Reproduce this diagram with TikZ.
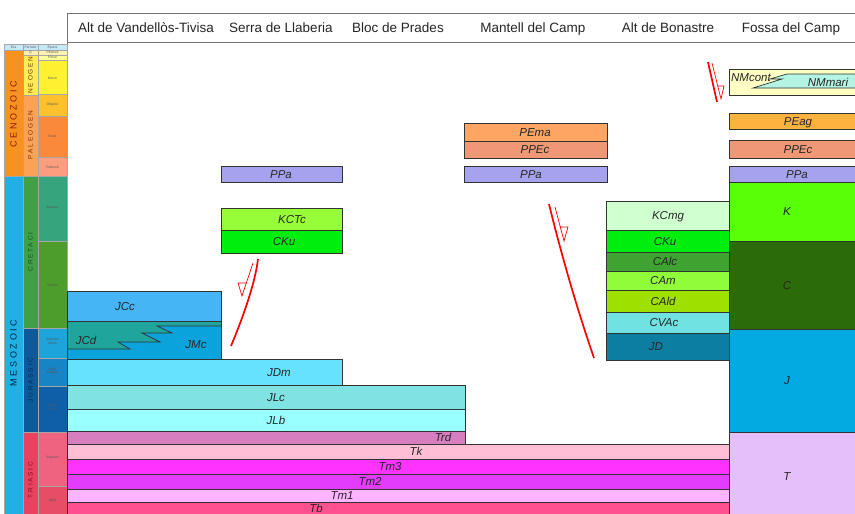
\documentclass[tikz,border=0pt]{standalone}
\usepackage{fontspec}
\setmainfont{Liberation Sans}
\newfontfamily\spcera[LetterSpace=30]{Liberation Sans}
\newfontfamily\spcper[LetterSpace=28]{Liberation Sans}
\definecolor{hdrblue}{HTML}{C5E8F7}
\definecolor{cenoz}{HTML}{F7921E}
\definecolor{mesoz}{HTML}{1FB0E6}
\definecolor{quatc}{HTML}{FFF2B0}
\definecolor{neogc}{HTML}{FFEE55}
\definecolor{paleogc}{HTML}{FBA255}
\definecolor{cretc}{HTML}{40A046}
\definecolor{jurc}{HTML}{0A5A9C}
\definecolor{triac}{HTML}{E8425F}
\definecolor{plistc}{HTML}{FFF2B0}
\definecolor{plioc}{HTML}{FFFF99}
\definecolor{mioc}{HTML}{FFF233}
\definecolor{oligc}{HTML}{FDC22B}
\definecolor{eocc}{HTML}{FA8A3A}
\definecolor{paleocc}{HTML}{FB9E7E}
\definecolor{ksupc}{HTML}{36A47C}
\definecolor{kinfc}{HTML}{4C9D2C}
\definecolor{malmc}{HTML}{1DA4DA}
\definecolor{doggc}{HTML}{1784C6}
\definecolor{liasc}{HTML}{0F5FA6}
\definecolor{tsupc}{HTML}{EF6381}
\definecolor{tmidc}{HTML}{E84D66}
\definecolor{cenoztxt}{HTML}{8A1A10}
\definecolor{mesoztxt}{HTML}{0A2040}
\definecolor{pgtxt}{HTML}{7A2E0E}
\definecolor{kttxt}{HTML}{1E4D1E}
\definecolor{jtxt}{HTML}{0A2A55}
\definecolor{ttxt}{HTML}{7A1028}
\definecolor{ppac}{HTML}{A5A3EE}
\definecolor{kctcc}{HTML}{96FD38}
\definecolor{ckuc}{HTML}{00EE0E}
\definecolor{pemac}{HTML}{FDA663}
\definecolor{ppecc}{HTML}{F09876}
\definecolor{kcmgc}{HTML}{D0FFD0}
\definecolor{calcc}{HTML}{3EA330}
\definecolor{camc}{HTML}{90FC3A}
\definecolor{caldc}{HTML}{9EE000}
\definecolor{cvacc}{HTML}{70E2E2}
\definecolor{jdc}{HTML}{0B7EA2}
\definecolor{nmc}{HTML}{FFFFC4}
\definecolor{nmmc}{HTML}{B3F4E3}
\definecolor{peagc}{HTML}{FDB240}
\definecolor{kfc}{HTML}{58FF06}
\definecolor{cfc}{HTML}{2C6B0A}
\definecolor{jfc}{HTML}{03A9E1}
\definecolor{tfc}{HTML}{E5BFFA}
\definecolor{jccc}{HTML}{45B5F5}
\definecolor{jmcc}{HTML}{0AA3DC}
\definecolor{jcdc}{HTML}{20A59D}
\definecolor{jdmc}{HTML}{66E2FF}
\definecolor{jlcc}{HTML}{80E3E3}
\definecolor{jlbc}{HTML}{99FFFF}
\definecolor{trdc}{HTML}{D67EC0}
\definecolor{tkc}{HTML}{FFBED6}
\definecolor{tm3c}{HTML}{FF33FF}
\definecolor{tm2c}{HTML}{E23DFB}
\definecolor{tm1c}{HTML}{FFB4FF}
\definecolor{tbc}{HTML}{FF5190}
\newcommand{\strat}[8]{%
  \filldraw[lay, fill=#6] (#2,#3) rectangle (#4,#5);
  \node[lbl] (#1) at (#8,{(#3+#5)/2}) {#7};}
\newcommand{\tcell}[6]{%
  \filldraw[cell, fill=#6] (#2,#3) rectangle (#4,#5);
  \coordinate (#1) at ({(#2+#4)/2},{(#3+#5)/2});}
\begin{document}
\begin{tikzpicture}[x=1pt,y=-1pt,
  lay/.style={draw=black!80,line width=0.7pt},
  lbl/.style={font=\fontsize{11.5}{11.5}\selectfont\itshape, text=black!85, inner sep=0pt, text height=8.2pt, text depth=0pt, yshift=-0.3pt},
  hdr/.style={font=\fontsize{13.5}{13.5}\selectfont, text=black!85, inner sep=0pt, text height=9.7pt, text depth=0pt},
  cell/.style={draw=black!35,line width=0.3pt},
  ep/.style={font=\fontsize{3.4}{3.8}\selectfont, text=black!65, align=center, inner sep=0pt},
  eratxt/.style={rotate=90, font=\spcera\fontsize{9}{9}\selectfont, inner sep=0pt},
  pertxt/.style={rotate=90, font=\spcper\fontsize{6.5}{6.5}\selectfont, inner sep=0pt},
  fault/.style={draw=red, line width=1.7pt},
  halfarrow/.style={draw=red, line width=0.7pt, line join=miter}]
\useasboundingbox (0,0) rectangle (855,514);
\fill[white] (0,0) rectangle (855,514);

% ---------- header ----------
\draw[black!55, line width=0.9pt] (67,13) -- (858,13);
\draw[black!55, line width=0.9pt] (67,42) -- (858,42);
\draw[black!55, line width=0.9pt] (67,13) -- (67,518);
\node[hdr] (h1) at (146,28) {Alt de Vandellòs-Tivisa};
\node[hdr] (h2) at (281,28) {Serra de Llaberia};
\node[hdr] (h3) at (398,28) {Bloc de Prades};
\node[hdr] (h4) at (533,28) {Mantell del Camp};
\node[hdr] (h5) at (668,28) {Alt de Bonastre};
\node[hdr] (h6) at (791,28) {Fossa del Camp};

% ---------- time scale ----------
\tcell{hEra}{4}{44}{23}{50}{hdrblue}
\tcell{hPer}{23}{44}{38}{50}{hdrblue}
\tcell{hEp}{38}{44}{67}{50}{hdrblue}
\node[ep] (tEra) at (hEra) {Era};
\node[ep] (tPer) at (hPer) {Període};
\node[ep] (tEp) at (hEp) {Època};
\tcell{eC}{4}{50}{23}{176}{cenoz}
\tcell{eM}{4}{176}{23}{518}{mesoz}
\tcell{pQ}{23}{50}{38}{55}{quatc}
\tcell{pN}{23}{55}{38}{95}{neogc}
\tcell{pP}{23}{95}{38}{176}{paleogc}
\tcell{pK}{23}{176}{38}{328}{cretc}
\tcell{pJ}{23}{328}{38}{432}{jurc}
\tcell{pT}{23}{432}{38}{518}{triac}
\tcell{ePl}{38}{50}{67}{55}{plistc}
\tcell{ePi}{38}{55}{67}{60}{plioc}
\tcell{eMi}{38}{60}{67}{94}{mioc}
\tcell{eOl}{38}{94}{67}{116}{oligc}
\tcell{eEo}{38}{116}{67}{157}{eocc}
\tcell{ePa}{38}{157}{67}{176}{paleocc}
\tcell{eKs}{38}{176}{67}{241}{ksupc}
\tcell{eKi}{38}{241}{67}{328}{kinfc}
\tcell{eJs}{38}{328}{67}{358}{malmc}
\tcell{eJm}{38}{358}{67}{386}{doggc}
\tcell{eJi}{38}{386}{67}{432}{liasc}
\tcell{eTs}{38}{432}{67}{486}{tsupc}
\tcell{eTm}{38}{486}{67}{518}{tmidc}
\node[ep] (lPl) at (ePl) {Plistocè};
\node[ep] (lPi) at (ePi) {Pliocè};
\node[ep] (lQ) at (pQ) {Q};
\node[ep] (lMi) at (52.5,78) {Miocè};
\node[ep] (lOl) at (52.5,105) {Oligocè};
\node[ep] (lEo) at (52.5,136) {Eocè};
\node[ep] (lPa) at (52.5,167) {Paleocè};
\node[ep] (lKs) at (52.5,208) {Superior};
\node[ep] (lKi) at (52.5,285) {Inferior};
\node[ep] (lJs) at (52.5,341) {Superior\\Malm};
\node[ep] (lJm) at (52.5,371) {Mitjà\\Dogger};
\node[ep] (lJi) at (52.5,407) {Inferior\\Lias};
\node[ep] (lTs) at (52.5,458) {Superior};
\node[ep] (lTm) at (52.5,501) {Mitjà};
\node[eratxt, text=cenoztxt] (tCen) at (13.5,114) {CENOZOIC};
\node[eratxt, text=mesoztxt] (tMes) at (13.5,353) {MESOZOIC};
\node[pertxt, text=pgtxt] (tNeo) at (30.5,75) {NEOGEN};
\node[pertxt, text=pgtxt] (tPal) at (30.5,135) {PALEOGEN};
\node[pertxt, text=kttxt] (tCre) at (30.5,252) {CRETACI};
\node[pertxt, text=jtxt] (tJur) at (30.5,380) {JURASSIC};
\node[pertxt, text=ttxt] (tTri) at (30.5,480) {TRIASIC};

% ---------- Alt de Vandellos-Tivisa / lower layers ----------
\strat{jcc}{67}{291}{221}{321}{jccc}{JCc}{125}
\filldraw[lay, fill=jmcc] (67,321) rectangle (221,359);
\fill[jcdc] (67,321) -- (221,321) -- (221,326) -- (157,326) -- (172,333) -- (142,333)
  -- (160,342) -- (118,342) -- (130,349) -- (67,349) -- cycle;
\draw[lay] (221,326) -- (157,326) -- (172,333) -- (142,333)
  -- (160,342) -- (118,342) -- (130,349) -- (67,349);
\draw[lay] (67,321) rectangle (221,359);
\node[lbl] (jcd) at (86,340) {JCd};
\node[lbl] (jmc) at (196,344) {JMc};
\strat{jdm}{67}{359}{342}{385}{jdmc}{JDm}{279}
\strat{jlc}{67}{385}{465}{409}{jlcc}{JLc}{276}
\strat{jlb}{67}{409}{465}{431}{jlbc}{JLb}{276}
\strat{trd}{67}{431}{465}{444}{trdc}{Trd}{443}
\strat{tk}{67}{444}{729}{459}{tkc}{Tk}{416}
\strat{tmt}{67}{459}{729}{474}{tm3c}{Tm3}{390}
\strat{tmd}{67}{474}{729}{489}{tm2c}{Tm2}{370}
\strat{tmu}{67}{489}{729}{502}{tm1c}{Tm1}{342}
\filldraw[lay, fill=tbc] (67,502) rectangle (729,520);
\node[lbl] (tb) at (316,508.5) {Tb};

% ---------- Serra de Llaberia ----------
\strat{ppaS}{221}{166}{342}{182}{ppac}{PPa}{281}
\strat{kctc}{221}{208}{342}{230}{kctcc}{KCTc}{292}
\strat{ckuS}{221}{230}{342}{253}{ckuc}{CKu}{284}

% ---------- Mantell del Camp ----------
\strat{pema}{464}{123}{607}{141}{pemac}{PEma}{535}
\strat{ppecM}{464}{141}{607}{158}{ppecc}{PPEc}{535}
\strat{ppaM}{464}{166}{607}{182}{ppac}{PPa}{531}

% ---------- Alt de Bonastre ----------
\strat{kcmg}{606}{201}{729}{230}{kcmgc}{KCmg}{668}
\strat{ckuB}{606}{230}{729}{252}{ckuc}{CKu}{665}
\strat{calc}{606}{252}{729}{271}{calcc}{CAlc}{665}
\strat{cam}{606}{271}{729}{290}{camc}{CAm}{663}
\strat{cald}{606}{290}{729}{312}{caldc}{CAld}{663}
\strat{cvac}{606}{312}{729}{333}{cvacc}{CVAc}{664}
\strat{jd}{606}{333}{729}{360}{jdc}{JD}{656}

% ---------- Fossa del Camp ----------
\filldraw[lay, fill=nmc] (729,69) rectangle (860,95);
\fill[nmmc] (860,74) -- (787,74) -- (770,79) -- (782,79) -- (753,88) -- (860,88) -- cycle;
\draw[lay] (860,74) -- (787,74) -- (770,79) -- (782,79) -- (753,88) -- (860,88);
\node[lbl] (nmcont) at (751,77) {NMcont};
\node[lbl] (nmmari) at (828,82) {NMmari};
\strat{peag}{729}{113}{860}{129}{peagc}{PEag}{798}
\strat{ppecF}{729}{140}{860}{158}{ppecc}{PPEc}{798}
\strat{ppaF}{729}{166}{860}{182}{ppac}{PPa}{797}
\strat{kF}{729}{182}{860}{241}{kfc}{K}{787}
\strat{cF}{729}{241}{860}{329}{cfc}{C}{787}
\strat{jF}{729}{329}{860}{432}{jfc}{J}{787}
\strat{tF}{729}{432}{860}{520}{tfc}{T}{787}

% ---------- faults ----------
\coordinate (f1a) at (231,346);
\coordinate (f1b) at (258,259);
\draw[fault] (f1a) .. controls (241,322) and (255,285) .. (f1b);
\coordinate (a1s) at (253,263);
\coordinate (a1t) at (242,296);
\draw[halfarrow] (a1s) -- (a1t) -- (238,283) -- (246,283);

\coordinate (f2a) at (549,204);
\coordinate (f2b) at (594,358);
\draw[fault] (f2a) .. controls (559,245) and (574,300) .. (f2b);
\coordinate (a2s) at (555,207);
\coordinate (a2t) at (564,241);
\draw[halfarrow] (a2s) -- (a2t) -- (568,227) -- (560,227);

\coordinate (f3a) at (708,62);
\coordinate (f3b) at (717,102);
\draw[fault] (f3a) -- (f3b);
\coordinate (a3s) at (712,63);
\coordinate (a3t) at (721,99);
\draw[halfarrow] (a3s) -- (a3t) -- (724,86) -- (718,86);
\end{tikzpicture}
\end{document}
